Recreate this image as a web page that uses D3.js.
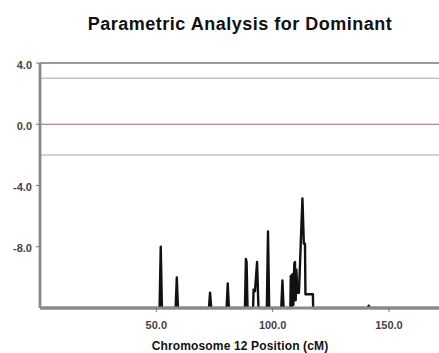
<!DOCTYPE html>
<html><head><meta charset="utf-8">
<script src="https://cdn.jsdelivr.net/npm/d3@7"></script>
<style>body{margin:0;background:#fff;} svg{display:block;font-family:"Liberation Sans",Arial,sans-serif;}</style>
</head><body>
<script>
const title = "Parametric Analysis for Dominant";
const xLabel = "Chromosome 12 Position (cM)";
const xTicks = [50, 100, 150];
const yTicks = [4, 0, -4, -8];
const refLines = [3, -2];
const zeroLine = 0;
const positions = [0,
 51.4,51.9,52.4,
 58.3,58.8,59.3,
 72.6,73.1,73.6,
 80.2,80.7,81.2,
 88.1,88.5,88.8,89.2,
 91.6,91.8,92.4,93.3,93.9,
 97.5,98.0,98.5,
 103.7,104.2,104.7,
 107.6,107.8,108.2,108.5,108.9,109.3,109.6,109.9,110.2,110.6,111.3,112.8,113.4,113.9,114.1,117.3,117.4,
 140.9,141.3,141.7,
 171.5];
const lods = [-12,
 -12,-8.0,-12,
 -12,-10.0,-12,
 -12,-11.0,-12,
 -12,-10.4,-12,
 -12,-8.8,-9.0,-12,
 -12,-10.8,-10.9,-9.0,-12,
 -12,-7.0,-12,
 -12,-10.2,-12,
 -12,-9.9,-11.9,-9.8,-11.8,-9.1,-9.0,-11.5,-9.5,-11.0,-11.0,-4.85,-7.8,-7.8,-11.1,-11.1,-12,
 -12,-11.85,-12,
 -12];

const W = 439, H = 353;
const fmt = v => v.toFixed(1);
const svg = d3.select("body").append("svg").attr("width", W).attr("height", H);
const x = d3.scaleLinear().domain([0, 171.5]).range([40, 439]);
const y = d3.scaleLinear().domain([-12, 4]).range([308, 63]);

// reference lines
svg.append("line").attr("x1", x(0)).attr("x2", W).attr("y1", y(4)).attr("y2", y(4))
  .attr("stroke", "#999").attr("stroke-width", 2);
refLines.forEach(v => svg.append("line").attr("x1", x(0)).attr("x2", W).attr("y1", y(v)).attr("y2", y(v))
  .attr("stroke", "#c4c4c4").attr("stroke-width", 1.5));
svg.append("line").attr("x1", x(0)).attr("x2", W).attr("y1", y(zeroLine)).attr("y2", y(zeroLine))
  .attr("stroke", "#b06060").attr("stroke-width", 1.2);

// trace
const pts = positions.map((p, i) => [p, lods[i]]);
svg.append("path").datum(pts)
  .attr("d", d3.line().x(d => x(d[0])).y(d => y(d[1])))
  .attr("fill", "none").attr("stroke", "#111").attr("stroke-width", 2.4).attr("stroke-linejoin", "round");

// axes
const xAxis = svg.append("g").attr("transform", `translate(0,${y(-12)})`)
  .call(d3.axisBottom(x).tickValues(xTicks).tickFormat(fmt).tickSize(4).tickSizeOuter(0).offset(0));
const yAxis = svg.append("g").attr("transform", `translate(${x(0)},0)`)
  .call(d3.axisLeft(y).tickValues(yTicks).tickFormat(fmt).tickSize(4).tickSizeOuter(0).offset(0));
[xAxis, yAxis].forEach(g => {
  g.select(".domain").attr("stroke", "#8a8a8a").attr("stroke-width", 2.8);
  g.selectAll(".tick line").attr("stroke", "#777").attr("stroke-width", 1);
  g.selectAll(".tick text").attr("fill", "#444").attr("font-size", 11).attr("font-weight", "bold")
    .attr("font-family", "Liberation Sans, Arial, sans-serif");
});
xAxis.selectAll(".tick text").attr("dy", "1.25em");
yAxis.selectAll(".tick text").attr("dx", "-1px").attr("dy", "0.5em");

svg.append("text").attr("x", 240).attr("y", 30).attr("text-anchor", "middle")
  .attr("font-size", 18).attr("font-weight", "bold").attr("letter-spacing", "0.5px").attr("fill", "#111").text(title);
svg.append("text").attr("x", 240).attr("y", 350).attr("text-anchor", "middle")
  .attr("font-size", 12).attr("font-weight", "bold").attr("letter-spacing", "0.15px").attr("fill", "#111").text(xLabel);
</script>
</body></html>
